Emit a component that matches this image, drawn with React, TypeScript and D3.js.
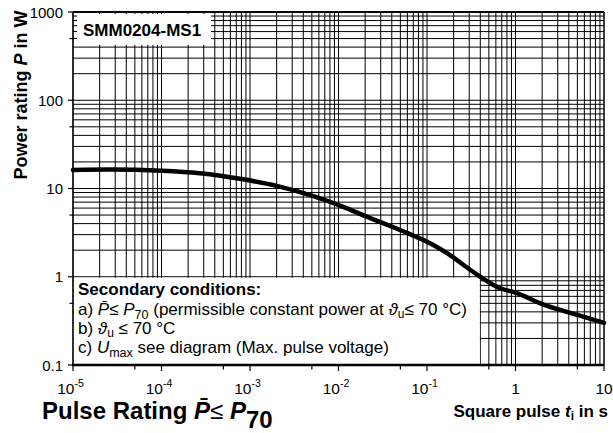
import React from "react";
import * as d3 from "d3";

// Curve data: square pulse duration (s) vs. permissible pulse power (W)
const pulseTime = [1e-5, 2.6e-5, 1e-4, 2.7e-4, 8.4e-4, 2e-3, 4.8e-3, 1.13e-2, 2.08e-2, 4.95e-2, 0.118, 0.182, 0.281, 0.4, 0.67, 1, 2, 5, 10];
const powerRating = [16.2, 16.4, 15.9, 14.9, 12.7, 10.7, 8.4, 6.2, 4.8, 3.39, 2.29, 1.76, 1.28, 1.0, 0.74, 0.66, 0.49, 0.37, 0.3];

const xTickValues = [1e-5, 1e-4, 1e-3, 1e-2, 1e-1, 1, 10];
const xTickBases = ["10", "10", "10", "10", "10", "1", "10"];
const xTickExps = ["-5", "-4", "-3", "-2", "-1", "", ""];
const yTickValues = [0.1, 1, 10, 100, 1000];
const yTickLabels = ["0.1", "1", "10", "100", "1000"];

const FONT = "'Liberation Sans', Arial, Helvetica, sans-serif";

export default function App() {
  const W = 613, H = 433;
  const x = d3.scaleLog().domain([1e-5, 10]).range([73, 604]);
  const y = d3.scaleLog().domain([0.1, 1000]).range([365, 12]);

  const xGrid: number[] = [];
  for (let e = -5; e < 1; e++) for (let k = 1; k < 10; k++) xGrid.push(k * Math.pow(10, e));
  xGrid.push(10);
  const yGrid: number[] = [];
  for (let e = -1; e < 3; e++) for (let k = 1; k < 10; k++) yGrid.push(k * Math.pow(10, e));
  yGrid.push(1000);
  const xMinor = [-5, -4, -3, -2, -1, 0].map((e) => 5 * Math.pow(10, e));
  const yMinor = [-1, 0, 1, 2].map((e) => 5 * Math.pow(10, e));

  const line = d3
    .line<number>()
    .x((_, i) => x(pulseTime[i]))
    .y((d) => y(d))
    .curve(d3.curveMonotoneX);

  const [x0, x1] = x.range();
  const [yb, yt] = y.range();

  return (
    <svg width={W} height={H} style={{ position: "absolute", left: 0, top: 0, background: "#fff" }} fontFamily={FONT}>
      <rect x={0} y={0} width={W} height={H} fill="#fff" />
      {/* grid */}
      {xGrid.map((v, i) => (
        <line key={"gx" + i} x1={x(v)} x2={x(v)} y1={yt} y2={yb} stroke="#000" strokeWidth={1} />
      ))}
      {yGrid.map((v, i) => (
        <line key={"gy" + i} x1={x0} x2={x1} y1={y(v)} y2={y(v)} stroke="#000" strokeWidth={1} />
      ))}
      {/* label box top-left */}
      <rect x={77} y={14} width={134} height={31} fill="#fff" />
      <text x={83} y={36} fontSize={17} fontWeight="bold">SMM0204-MS1</text>
      {/* secondary conditions box */}
      <rect x={x0 + 0.8} y={y(1) + 1} width={x(0.4) - x0 - 1.3} height={yb - y(1) - 1.5} fill="#fff" />
      <text x={78} y={295} fontSize={17} fontWeight="bold">Secondary conditions:</text>
      <text x={78} y={315} fontSize={17}>
        a) <tspan fontStyle="italic">P&#x0304;</tspan>≤ <tspan fontStyle="italic">P</tspan>
        <tspan dy={4} fontSize={12.5}>70</tspan>
        <tspan dy={-4}> (permissible constant power at </tspan>
        <tspan fontStyle="italic">ϑ</tspan>
        <tspan dy={3} fontSize={12}>u</tspan>
        <tspan dy={-3}>≤ 70 °C)</tspan>
      </text>
      <text x={78} y={334} fontSize={17}>
        b) <tspan fontStyle="italic">ϑ</tspan>
        <tspan dy={3} fontSize={12}>u</tspan>
        <tspan dy={-3}> ≤ 70 °C</tspan>
      </text>
      <text x={78} y={353} fontSize={17}>
        c) <tspan fontStyle="italic">U</tspan>
        <tspan dy={4} fontSize={12.5}>max</tspan>
        <tspan dy={-4}> see diagram (Max. pulse voltage)</tspan>
      </text>
      {/* frame */}
      <line x1={x0} x2={x0} y1={yt} y2={yb} stroke="#000" strokeWidth={1.3} />
      <line x1={x1} x2={x1} y1={yt} y2={yb} stroke="#000" strokeWidth={1} />
      <line x1={x0} x2={x1} y1={yt} y2={yt} stroke="#000" strokeWidth={2} />
      <line x1={x0 - 1} x2={x1} y1={yb} y2={yb} stroke="#000" strokeWidth={2.5} />
      {/* y ticks */}
      {yTickValues.map((v, i) => (
        <g key={"yt" + i}>
          <line x1={x0 - 5} x2={x0} y1={y(v)} y2={y(v)} stroke="#000" strokeWidth={1.2} />
          <text x={63} y={y(v) + 5.5} fontSize={15} textAnchor="end">{yTickLabels[i]}</text>
        </g>
      ))}
      {yMinor.map((v, i) => (
        <line key={"ym" + i} x1={x0 - 3.5} x2={x0} y1={y(v)} y2={y(v)} stroke="#000" strokeWidth={1.2} />
      ))}
      {/* x ticks */}
      {xTickValues.map((v, i) => (
        <g key={"xt" + i}>
          <line x1={x(v)} x2={x(v)} y1={yb} y2={yb + 6} stroke="#000" strokeWidth={1.2} />
          <text x={x(v) - (xTickExps[i] ? 2.5 : 0)} y={394} fontSize={15.5} textAnchor="middle">
            {xTickBases[i]}
            {xTickExps[i] ? (
              <tspan dy={-7} fontSize={10.5}>{xTickExps[i]}</tspan>
            ) : null}
          </text>
        </g>
      ))}
      {xMinor.map((v, i) => (
        <line key={"xm" + i} x1={x(v)} x2={x(v)} y1={yb} y2={yb + 4.5} stroke="#000" strokeWidth={1.2} />
      ))}
      {/* curve */}
      <path d={line(powerRating) || ""} fill="none" stroke="#000" strokeWidth={4.5} strokeLinejoin="round" strokeLinecap="round" />
      {/* axis titles */}
      <text transform="translate(27,95) rotate(-90)" fontSize={18} fontWeight="bold" textAnchor="middle">
        Power rating <tspan fontStyle="italic">P</tspan> in W
      </text>
      <text x={608} y={417} fontSize={17} fontWeight="bold" textAnchor="end">
        Square pulse <tspan fontStyle="italic">t</tspan>
        <tspan dy={3} fontSize={12}>i</tspan>
        <tspan dy={-3}> in s</tspan>
      </text>
      <text x={42} y={419} fontSize={24} fontWeight="bold">
        Pulse Rating <tspan fontStyle="italic">P&#x0304;</tspan>
        <tspan fontWeight="normal">≤ </tspan>
        <tspan fontStyle="italic">P</tspan>
        <tspan dy={9}>70</tspan>
      </text>
    </svg>
  );
}
